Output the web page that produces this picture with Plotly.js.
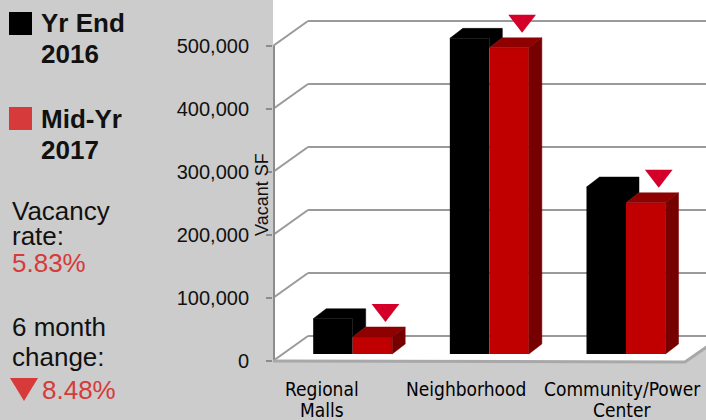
<!DOCTYPE html>
<html><head><meta charset="utf-8">
<script src="https://cdn.plot.ly/plotly-3.0.1.min.js"></script>
<style>html,body{margin:0;padding:0;background:#cccccc;}#chart{width:706px;height:420px;}</style>
</head><body><div id="chart"></div>
<script>
// ---- Data ----
const categories = ["Regional Malls", "Neighborhood", "Community/Power Center"];
const categoryLines = [["Regional", "Malls"], ["Neighborhood"], ["Community/Power", "Center"]];
const seriesNames = [["Yr End", "2016"], ["Mid-Yr", "2017"]];
const yrEnd2016 = [56000, 501000, 265000];
const midYr2017 = [27000, 486000, 240000];
const yTicks = [0, 100000, 200000, 300000, 400000, 500000];
const vacancyLines = ["Vacancy", "rate:"];
const vacancyRate = "5.83%";
const changeLines = ["6 month", "change:"];
const sixMonthChange = "8.48%";

// ---- Geometry / style (pixels) ----
const W = 706, H = 420, L = 273, R = 706, T = 0, B = 380;
const FRONT0 = 361, PXPER = 63 / 100000;
const GROUP0 = 352.7, GROUPSTEP = 136.65;
const WALL_DX = 35, WALL_DY = 25;
const BAR_DX = 13, BAR_DY = 10, BAR_LIFT = 7, BAR_W = 39.5;
const labelShift = [-31, -23, -4];

const ux = p => (p - GROUP0) / GROUPSTEP;
const dux = d => d / GROUPSTEP;
const uy = p => (FRONT0 - p) / PXPER;
const duy = d => d / PXPER;
const pX = p => (p - L) / (R - L);
const pY = p => (B - p) / (B - T);

const BLACK = "#000000", RED = "#c00000", RED_TOP = "#8f0000", RED_SIDE = "#760000";
const GRID = "#9a9a9a", TRI = "#d5002a", TXTRED = "#d63a3a", TXT = "#111111";

const base = duy(BAR_LIFT), w = dux(BAR_W), ddx = dux(BAR_DX), ddy = duy(BAR_DY);
const idx = categories.map((c, i) => i);

function polys(fn) {
  const xs = [], ys = [];
  idx.forEach(i => { fn(i).forEach(p => { xs.push(p[0]); ys.push(p[1]); }); xs.push(null); ys.push(null); });
  return { xs, ys };
}
function polyTrace(pp, color) {
  return { type: "scatter", mode: "lines", x: pp.xs, y: pp.ys, fill: "toself", fillcolor: color,
    line: { color: color, width: 0.5 }, hoverinfo: "skip", showlegend: false };
}

const blackTopSide = polys(i => {
  const x0 = i - w, tb = base + yrEnd2016[i], tr = Math.min(tb, base + midYr2017[i]);
  return [[x0, tb], [x0 + ddx, tb + ddy], [x0 + w + ddx, tb + ddy], [x0 + w + ddx, tr + ddy], [x0 + w, tr], [x0 + w, tb], [x0, tb]];
});
const redTop = polys(i => {
  const x0 = i, tr = base + midYr2017[i];
  return [[x0, tr], [x0 + w, tr], [x0 + w + ddx, tr + ddy], [x0 + ddx, tr + ddy], [x0, tr]];
});
const redSide = polys(i => {
  const x0 = i + w, tr = base + midYr2017[i];
  return [[x0, base], [x0, tr], [x0 + ddx, tr + ddy], [x0 + ddx, base + ddy], [x0, base]];
});

const traces = [
  { type: "bar", name: seriesNames[0].join(" "), x: idx, y: yrEnd2016, base: base, width: w, offset: -w,
    marker: { color: BLACK, line: { width: 0 } }, showlegend: false },
  { type: "bar", name: seriesNames[1].join(" "), x: idx, y: midYr2017, base: base, width: w, offset: 0,
    marker: { color: RED, line: { width: 0 } }, showlegend: false },
  polyTrace(blackTopSide, BLACK),
  polyTrace(redTop, RED_TOP),
  polyTrace(redSide, RED_SIDE),
  { type: "scatter", mode: "markers", x: idx.map(i => i + w / 2 + ddx), y: midYr2017.map(v => base + v + ddy + duy(17)),
    marker: { symbol: "triangle-down", size: 24, color: TRI, line: { width: 0 } }, hoverinfo: "skip", showlegend: false }
];

// ---- Shapes ----
const shapes = [];
const path = pts => pts.map((p, k) => (k ? "L" : "M") + ux(p[0]) + "," + uy(p[1])).join(" ") + " Z";
shapes.push({ type: "path", xref: "x", yref: "y", layer: "below", fillcolor: "#ffffff", line: { width: 0 },
  path: path([[L, -5], [R + 2, -5], [R + 2, 346], [685, 362], [L, 362]]) });
yTicks.forEach(v => {
  shapes.push({ type: "line", xref: "x", yref: "y", layer: "below", line: { color: GRID, width: 2 },
    x0: ux(L + WALL_DX), x1: ux(R + 2), y0: v + duy(WALL_DY), y1: v + duy(WALL_DY) });
  shapes.push({ type: "line", xref: "x", yref: "y", layer: "below", line: { color: GRID, width: 2 },
    x0: ux(L), x1: ux(L + WALL_DX), y0: v, y1: v + duy(WALL_DY) });
});
shapes.push({ type: "line", xref: "x", yref: "y", layer: "below", line: { color: "#8c8c8c", width: 2 },
  x0: ux(L + 1), x1: ux(L + 1), y0: yTicks[0], y1: yTicks[yTicks.length - 1] });
shapes.push({ type: "path", xref: "x", yref: "y", layer: "below", line: { color: "#a8a8a8", width: 3 },
  path: [[L, 361], [685, 362], [R + 2, 346]].map((p, k) => (k ? "L" : "M") + ux(p[0]) + "," + uy(p[1])).join(" ") });
// legend squares
shapes.push({ type: "rect", xref: "paper", yref: "paper", x0: pX(9), x1: pX(32), y0: pY(12), y1: pY(35), fillcolor: BLACK, line: { width: 0 } });
shapes.push({ type: "rect", xref: "paper", yref: "paper", x0: pX(9), x1: pX(32), y0: pY(107), y1: pY(130), fillcolor: TXTRED, line: { width: 0 } });
shapes.push({ type: "path", xref: "paper", yref: "paper", fillcolor: TXTRED, line: { width: 0 },
  path: "M" + pX(10) + "," + pY(378) + " L" + pX(38) + "," + pY(378) + " L" + pX(24) + "," + pY(401) + " Z" });

// ---- Annotations ----
const FONT = "Liberation Sans, Arial, sans-serif";
const ann = [];
function txt(t, x, baseline, size, opts) {
  opts = opts || {};
  ann.push({ text: t, xref: "paper", yref: "paper", x: pX(x), y: pY(baseline - 0.35 * size), xanchor: "left", yanchor: "middle",
    showarrow: false, borderpad: 0, font: { family: FONT, size: size, color: opts.color || TXT, weight: opts.bold ? 700 : 400 } });
}
txt("<b>" + seriesNames[0][0] + "</b>", 40, 32, 26, { bold: true });
txt("<b>" + seriesNames[0][1] + "</b>", 40, 63, 26, { bold: true });
txt("<b>" + seriesNames[1][0] + "</b>", 40, 128, 26, { bold: true });
txt("<b>" + seriesNames[1][1] + "</b>", 40, 159, 26, { bold: true });
txt(vacancyLines[0], 11, 220, 26);
txt(vacancyLines[1], 11, 245, 26);
txt(vacancyRate, 11, 272, 26, { color: TXTRED });
txt(changeLines[0], 11, 336, 26);
txt(changeLines[1], 11, 366, 26);
txt(sixMonthChange, 41, 399, 26, { color: TXTRED });
ann.push({ text: "Vacant SF", xref: "paper", yref: "paper", x: pX(262), y: pY(195), textangle: -90, showarrow: false,
  xanchor: "center", yanchor: "middle", font: { family: FONT, size: 18, color: TXT } });
const CATFONT = "DejaVu Sans Condensed, Liberation Sans Narrow, sans-serif";
categoryLines.forEach((lines, i) => {
  lines.forEach((ln, k) => {
    ann.push({ text: ln, xref: "x", yref: "paper", x: i, xshift: labelShift[i], y: pY(396 + 21 * k - 0.35 * 19),
      xanchor: "center", yanchor: "middle", showarrow: false, borderpad: 0,
      font: { family: CATFONT, size: 19, color: "#000000" } });
  });
});

const layout = {
  width: W, height: H, margin: { l: L, r: W - R, t: T, b: H - B, pad: 0 },
  paper_bgcolor: "#cccccc", plot_bgcolor: "rgba(0,0,0,0)",
  barmode: "overlay", showlegend: false,
  xaxis: { range: [ux(L), ux(R)], showticklabels: false, showgrid: false, zeroline: false, showline: false, ticks: "", fixedrange: true },
  yaxis: { range: [uy(B), uy(T)], tickvals: yTicks, tickformat: ",d", ticks: "outside", ticklen: 6, tickwidth: 2, tickcolor: "#8c8c8c",
    showgrid: false, zeroline: false, showline: false, ticklabelstandoff: 13,
    tickfont: { family: FONT, size: 20, color: TXT }, fixedrange: true },
  shapes: shapes, annotations: ann
};
Plotly.newPlot("chart", traces, layout, { displayModeBar: false, staticPlot: true });
</script></body></html>
